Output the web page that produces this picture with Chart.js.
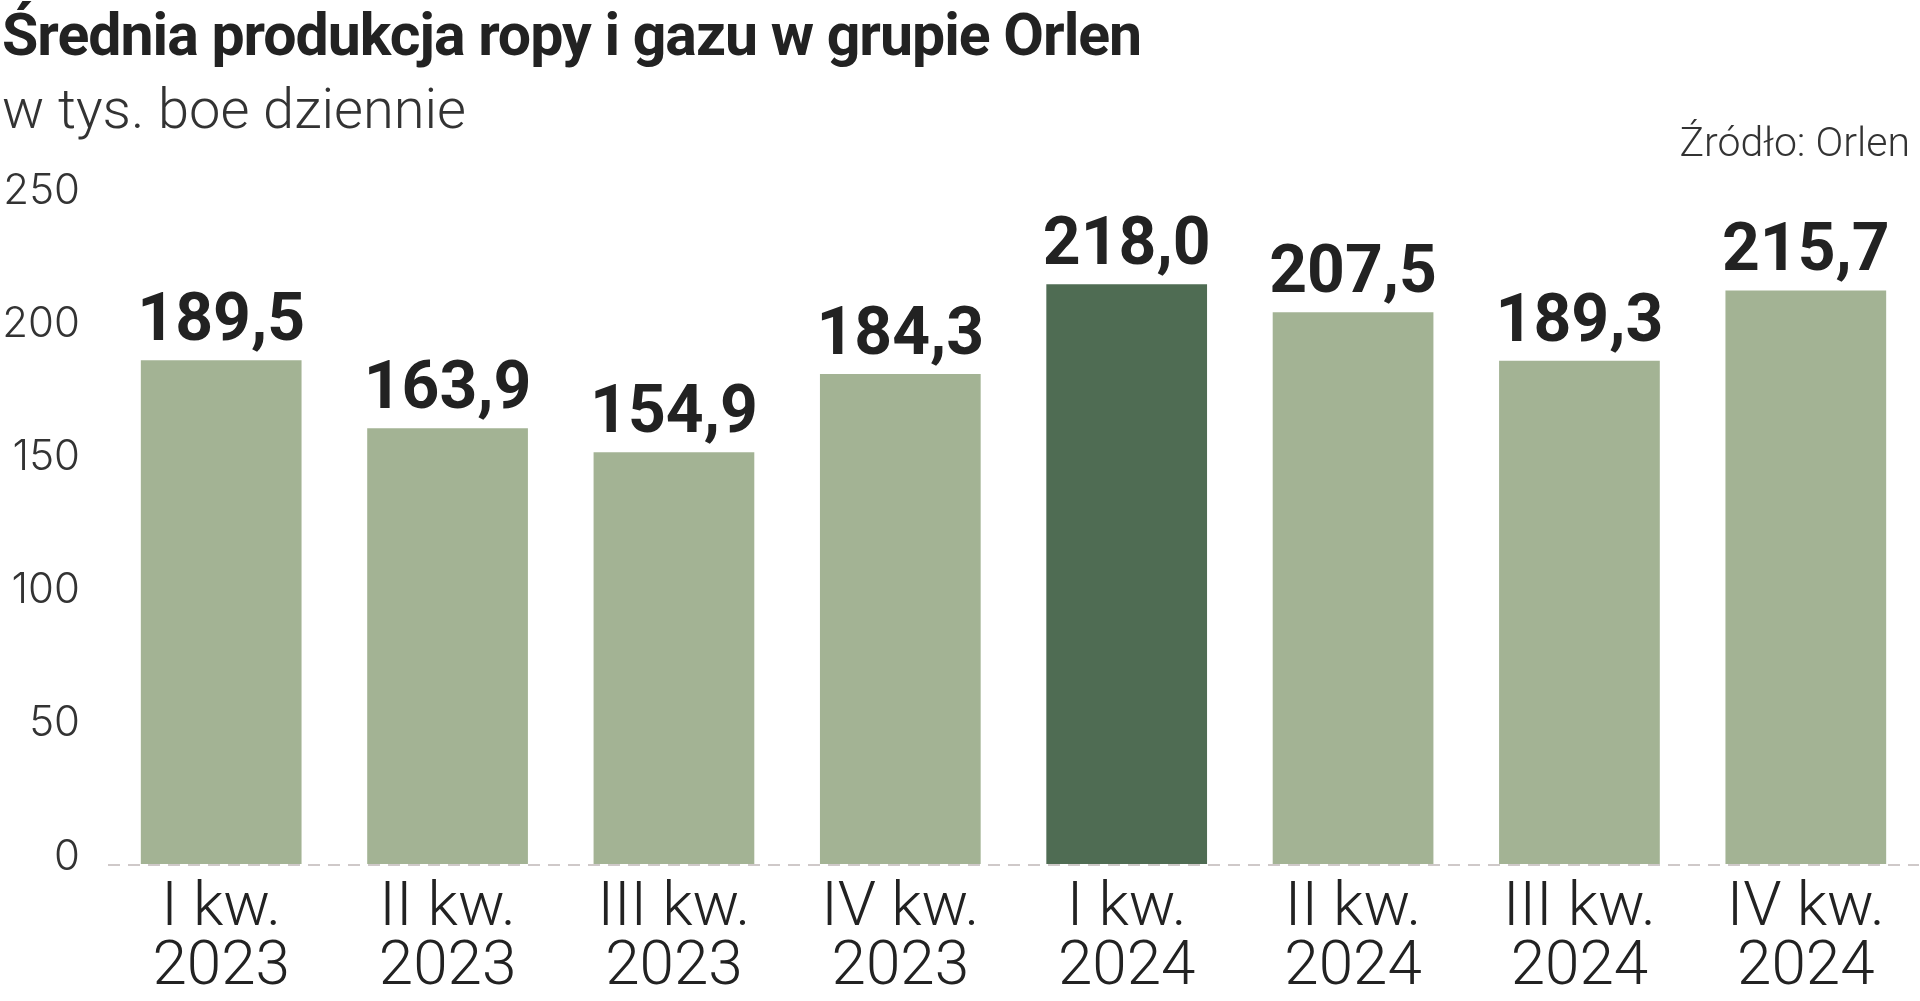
<!DOCTYPE html>
<html lang="pl">
<head>
<meta charset="utf-8">
<title>Średnia produkcja ropy i gazu w grupie Orlen</title>
<script src="https://cdn.jsdelivr.net/npm/chart.js@4/dist/chart.umd.min.js"></script>
<style>
	html, body { margin: 0; padding: 0; background: #fff; }
	#wrap { position: relative; width: 1920px; height: 1001px; overflow: hidden; }
	#chart { position: absolute; left: 0; top: 0; }
	.txt { position: absolute; margin: 0; line-height: 1; color: #222; white-space: nowrap; font-family: Roboto, sans-serif; }
	#title { left: 2px; top: 5px; font-size: 59px; font-weight: 700; letter-spacing: -1px; }
	#subtitle { left: 2px; top: 81px; font-size: 56px; font-weight: 300; color: #333; }
	#source { right: 10px; top: 122px; font-size: 41px; font-weight: 300; color: #333; }
</style>
</head>
<body>
<div id="wrap">
	<canvas id="chart" width="1920" height="1001"></canvas>
	<h1 class="txt" id="title">Średnia produkcja ropy i gazu w grupie Orlen</h1>
	<div class="txt" id="subtitle">w tys. boe dziennie</div>
	<div class="txt" id="source">Źródło: Orlen</div>
</div>
<script>
// Data
const quarters = [
	['I kw.', '2023'], ['II kw.', '2023'], ['III kw.', '2023'], ['IV kw.', '2023'],
	['I kw.', '2024'], ['II kw.', '2024'], ['III kw.', '2024'], ['IV kw.', '2024']
];
const production = [189.5, 163.9, 154.9, 184.3, 218.0, 207.5, 189.3, 215.7];
const highlightIndex = 4;
const yTicks = [0, 50, 100, 150, 200, 250];

const LIGHT = '#a3b394';
const DARK = '#4f6c53';

// Simple value labels above the bars (no datalabels plugin offline)
const valueLabels = {
	id: 'valueLabels',
	afterDatasetsDraw(chart) {
		const { ctx } = chart;
		const meta = chart.getDatasetMeta(0);
		ctx.save();
		ctx.font = '700 66px Roboto, sans-serif';
		ctx.fillStyle = '#222';
		ctx.textAlign = 'center';
		ctx.textBaseline = 'alphabetic';
		meta.data.forEach((bar, i) => {
			const txt = production[i].toFixed(1).replace('.', ',');
			ctx.fillText(txt, bar.x, bar.y - 20);
		});
		ctx.restore();
	}
};

new Chart(document.getElementById('chart'), {
	type: 'bar',
	data: {
		labels: quarters,
		datasets: [{
			data: production,
			backgroundColor: production.map((_, i) => i === highlightIndex ? DARK : LIGHT),
			barPercentage: 0.71,
			categoryPercentage: 1
		}]
	},
	options: {
		responsive: false,
		animation: false,
		layout: { padding: { top: 199, left: 4, right: 1, bottom: 0 } },
		plugins: {
			legend: { display: false },
			tooltip: { enabled: false }
		},
		scales: {
			x: {
				grid: { display: false, drawTicks: false },
				border: { display: false },
				ticks: {
					padding: 15,
					color: '#222',
					font: { family: 'Roboto', weight: 300, size: 62, lineHeight: 0.95 },
					maxRotation: 0
				},
				afterFit: s => { s.height = 136; }
			},
			y: {
				min: 0,
				max: 250,
				afterBuildTicks: s => { s.ticks = yTicks.map(v => ({ value: v })); },
				grid: {
					drawTicks: false,
					color: c => (c.tick && c.tick.value === 0) ? '#cfc9c9' : 'transparent',
					lineWidth: 2
				},
				border: { display: false, dash: [12, 8] },
				ticks: {
					padding: 28,
					labelOffset: -8,
					color: '#333',
					font: { family: 'Inter', weight: 300, size: 42 }
				},
				afterFit: s => { s.width = 104; }
			}
		}
	},
	plugins: [valueLabels]
});
</script>
</body>
</html>
